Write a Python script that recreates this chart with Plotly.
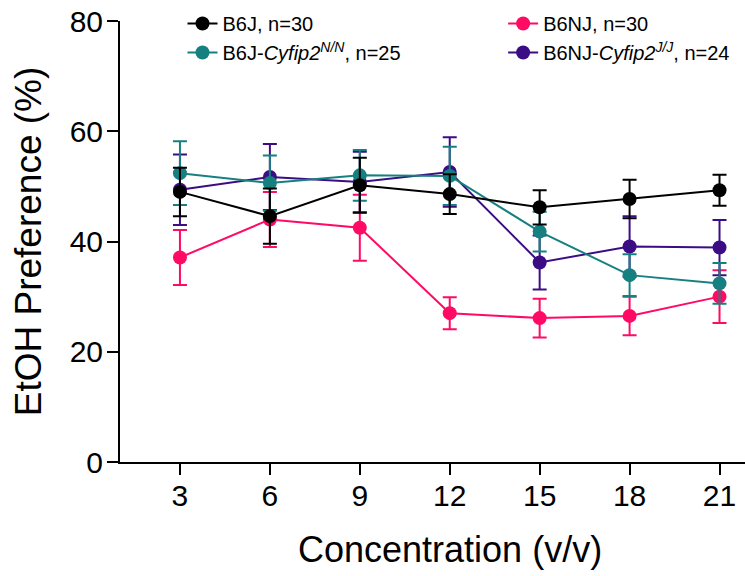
import plotly.graph_objects as go

conc = [3, 6, 9, 12, 15, 18, 21]
x_ticks = [3, 6, 9, 12, 15, 18, 21]
y_ticks = [0, 20, 40, 60, 80]

b6j = [49.0, 44.6, 50.2, 48.6, 46.2, 47.7, 49.3]
b6j_err = [4.4, 5.0, 5.0, 3.6, 3.1, 3.5, 2.8]

b6nj = [37.1, 44.0, 42.5, 27.0, 26.1, 26.5, 30.0]
b6nj_err = [5.0, 5.0, 6.0, 2.9, 3.5, 3.5, 4.8]

b6j_cyf = [52.4, 50.6, 52.0, 51.9, 41.8, 33.9, 32.4]
b6j_cyf_err = [5.8, 5.0, 4.6, 5.3, 3.6, 3.8, 3.7]

b6nj_cyf = [49.4, 51.7, 50.8, 52.6, 36.2, 39.1, 38.9]
b6nj_cyf_err = [6.4, 6.0, 5.5, 6.3, 4.9, 5.5, 5.0]

names = ["B6J, n=30", "B6NJ, n=30",
         "B6J-<i>Cyfip2</i><sup><i>N/N</i></sup>, n=25",
         "B6NJ-<i>Cyfip2</i><sup><i>J/J</i></sup>, n=24"]
colors = ["#000000", "#FF0A64", "#168080", "#3C0C84"]
series = [b6j, b6nj, b6j_cyf, b6nj_cyf]
errors = [b6j_err, b6nj_err, b6j_cyf_err, b6nj_cyf_err]
legend_ids = ["legend", "legend2", "legend", "legend2"]

fig = go.Figure()
# draw black last so it sits on top
for i in [1, 3, 2, 0]:
    fig.add_trace(go.Scatter(
        x=conc, y=series[i], name=names[i], mode="lines+markers",
        line=dict(color=colors[i], width=2),
        marker=dict(color=colors[i], size=14),
        error_y=dict(type="data", array=errors[i], color=colors[i],
                     thickness=2, width=7),
        legend=legend_ids[i], legendrank=i + 1,
    ))

font_family = "Liberation Sans, Arial, sans-serif"
leg_common = dict(
    orientation="v", y=0.993, yref="container", xanchor="left", yanchor="top",
    font=dict(size=20, family=font_family),
    bgcolor="rgba(0,0,0,0)", itemwidth=30, traceorder="normal",
)
fig.update_layout(
    width=745, height=576,
    margin=dict(l=120, r=0, t=21, b=114, autoexpand=False),
    paper_bgcolor="white", plot_bgcolor="white",
    font=dict(family=font_family, color="black"),
    showlegend=True,
    legend=dict(x=0.1, **leg_common),
    legend2=dict(x=0.613, **leg_common),
    xaxis=dict(
        range=[1.0, 21.85], tickmode="array", tickvals=x_ticks,
        ticktext=[str(t) for t in x_ticks],
        showline=True, linecolor="black", linewidth=2,
        ticks="outside", ticklen=11, tickwidth=2, tickcolor="black",
        showgrid=False, zeroline=False, automargin=False,
        tickfont=dict(size=30), ticklabelstandoff=-5,
    ),
    yaxis=dict(
        range=[0, 80], tickmode="array", tickvals=y_ticks,
        showline=True, linecolor="black", linewidth=2,
        ticks="outside", ticklen=11, tickwidth=2, tickcolor="black",
        showgrid=False, zeroline=False, automargin=False,
        tickfont=dict(size=30), ticklabelstandoff=-2,
        title=dict(text="EtOH Preference (%)", font=dict(size=37), standoff=17),
    ),
    annotations=[dict(
        text="Concentration (v/v)", xref="paper", yref="paper",
        x=0.528, y=-0.198, xanchor="center", yanchor="middle",
        showarrow=False, font=dict(size=36, family=font_family),
    )],
)

fig.write_html("out.html",
               config={"displayModeBar": False},
               post_script="document.body.style.margin='0px';")
